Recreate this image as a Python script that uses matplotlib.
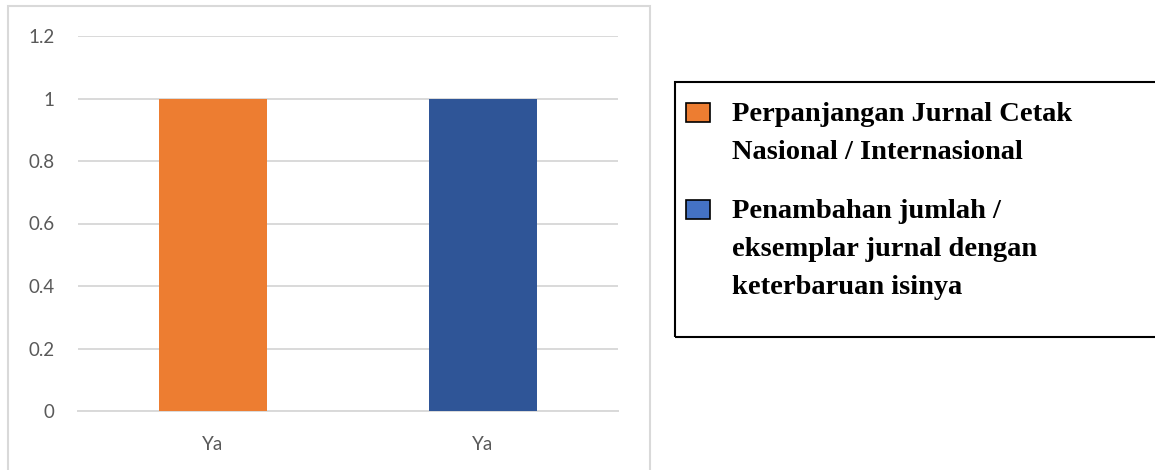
import matplotlib.pyplot as plt
from matplotlib.patches import Rectangle

# data
categories = ['Ya', 'Ya']
values = [1, 1]
series = ['Perpanjangan Jurnal Cetak\nNasional / Internasional',
          'Penambahan jumlah /\neksemplar jurnal dengan\nketerbaruan isinya']
yticks = [0, 0.2, 0.4, 0.6, 0.8, 1, 1.2]
ytick_labels = ['0', '0.2', '0.4', '0.6', '0.8', '1', '1.2']

bar_colors = ['#ED7D31', '#2F5597']
legend_colors = ['#ED7D31', '#4472C4']

W, H = 1155, 470
fig = plt.figure(figsize=(W / 100, H / 100), dpi=100)
ax = fig.add_axes([78 / W, 59 / H, 540 / W, 375 / H])

x = list(range(len(categories)))
ax.bar(x, values, width=0.4, color=bar_colors, zorder=3)
ax.set_xlim(-0.5, 1.5)
ax.set_ylim(0, 1.2)
ax.set_yticks(yticks)
ax.set_yticklabels(ytick_labels)
ax.set_xticks(x)
ax.set_xticklabels(categories)
ax.yaxis.grid(True, color='#D9D9D9', linewidth=1.4, zorder=0)
for s in ['top', 'right', 'left']:
    ax.spines[s].set_visible(False)
ax.spines['bottom'].set_color('#D9D9D9')
ax.spines['bottom'].set_linewidth(1.4)
ax.tick_params(axis='y', length=0, pad=17, labelsize=13.5, labelcolor='#595959')
ax.tick_params(axis='x', length=0, pad=18, labelsize=13.5, labelcolor='#595959')
for t in ax.get_xticklabels() + ax.get_yticklabels():
    t.set_family('Lato')

# outer chart border
fig.patches.append(Rectangle((8 / W, -0.05), 642 / W, 1.05 - 6 / H,
                             transform=fig.transFigure, fill=False,
                             edgecolor='#D9D9D9', linewidth=1.5))
# legend frame
fig.patches.append(Rectangle((675 / W, (H - 337) / H), 0.5, 255 / H,
                             transform=fig.transFigure, fill=False,
                             edgecolor='black', linewidth=1.5))

# legend entries, drawn by hand (pixel layout from the top)
baseline = 121
line_step = 38
entry_gap = 21
for label, color in zip(series, legend_colors):
    fig.patches.append(Rectangle((686 / W, 1 - (baseline + 1) / H), 24 / W, 19 / H,
                                 transform=fig.transFigure, facecolor=color,
                                 edgecolor='black', linewidth=1.2))
    for line in label.split('\n'):
        fig.text(732 / W, 1 - baseline / H, line, va='baseline', ha='left',
                 family='Liberation Serif', weight='bold', fontsize=20.5)
        baseline += line_step
    baseline += entry_gap

fig.savefig('out.png', dpi=100)
